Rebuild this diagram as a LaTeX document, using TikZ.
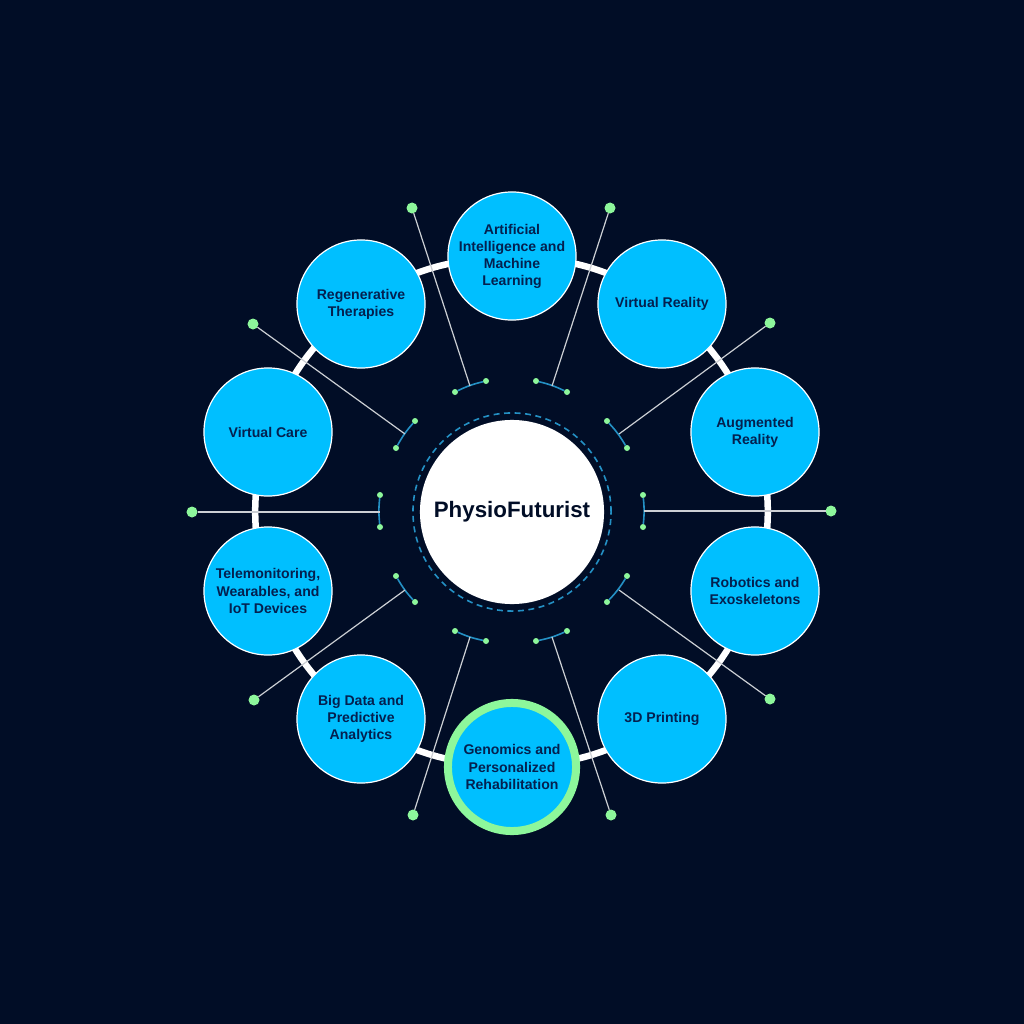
\documentclass[tikz,border=0pt]{standalone}
\usepackage{fontspec}
\setmainfont{Liberation Sans}
\usetikzlibrary{positioning,backgrounds}
\definecolor{bgColor}{HTML}{010D26}
\definecolor{topicColor}{HTML}{00BFFF}
\definecolor{textColor}{HTML}{04204F}
\definecolor{dotColor}{HTML}{8DF79B}
\definecolor{arcColor}{HTML}{2490C4}
\tikzset{
	topic/.style={circle, draw=white, line width=0.012cm, fill=topicColor, text=textColor,
		minimum size=1.28cm, inner sep=0, outer sep=0, align=center,
		font=\fontsize{4.0}{4.85}\selectfont\bfseries},
	chosen/.style={topic, draw=dotColor, line width=0.08cm},
	bigdot/.style={circle, fill=dotColor, minimum size=0.11cm, inner sep=0, outer sep=0},
	smalldot/.style={circle, fill=dotColor, minimum size=0.06cm, inner sep=0, outer sep=0},
	ring/.style={draw=white, line width=0.065cm, bend left=3.6, shorten >=-0.5pt, shorten <=-0.5pt},
	leader/.style={draw=white!80!bgColor, line width=0.012cm},
	tick/.style={draw=arcColor, line width=0.016cm, bend left=6}
}
\begin{document}
\begin{tikzpicture}[x=0.01cm, y=-0.01cm]
	\useasboundingbox (0,0) rectangle (1024,1024);
	\node[circle, fill=white, minimum size=1.84cm, inner sep=0, text=bgColor, font=\fontsize{6.35}{7}\selectfont\bfseries] (hub) at (512, 512) {PhysioFuturist};
	\draw[arcColor, line width=0.016cm, dash pattern=on 0.06cm off 0.045cm] (hub.center) circle (0.99cm);
	\node[topic] (ai) at (512, 256) {Artificial\\Intelligence and\\Machine\\Learning};
	\node[topic] (vr) at (662, 304) {Virtual Reality};
	\node[topic] (ar) at (755, 432) {Augmented\\Reality};
	\node[topic] (robot) at (755, 591) {Robotics and\\Exoskeletons};
	\node[topic] (print) at (662, 719) {3D Printing};
	\node[chosen] (gen) at (512, 767) {Genomics and\\Personalized\\Rehabilitation};
	\node[topic] (data) at (361, 719) {Big Data and\\Predictive\\Analytics};
	\node[topic] (tele) at (268, 591) {Telemonitoring,\\Wearables, and\\IoT Devices};
	\node[topic] (care) at (268, 432) {Virtual Care};
	\node[topic] (regen) at (361, 304) {Regenerative\\Therapies};
	\begin{scope}[on background layer]
		\fill[bgColor] (0,0) rectangle (1024,1024);
		\path (ai.-7) edge[ring] (vr.151);
		\path (vr.-43) edge[ring] (ar.115);
		\path (ar.-79) edge[ring] (robot.79);
		\path (robot.-115) edge[ring] (print.43);
		\path (print.-151) edge[ring] (gen.7);
		\path (gen.173) edge[ring] (data.-29);
		\path (data.137) edge[ring] (tele.-65);
		\path (tele.101) edge[ring] (care.-101);
		\path (care.65) edge[ring] (regen.-137);
		\path (regen.29) edge[ring] (ai.187);
	\end{scope}
	% outer dots
	\node[bigdot] (o1) at (412, 208) {};
	\node[bigdot] (o2) at (610, 208) {};
	\node[bigdot] (o3) at (770, 323) {};
	\node[bigdot] (o4) at (831, 511) {};
	\node[bigdot] (o5) at (770, 699) {};
	\node[bigdot] (o6) at (611, 815) {};
	\node[bigdot] (o7) at (413, 815) {};
	\node[bigdot] (o8) at (254, 700) {};
	\node[bigdot] (o9) at (192, 512) {};
	\node[bigdot] (o10) at (253, 324) {};
	% inner ticks
	\node[smalldot] (a1) at (455, 392) {};
	\node[smalldot] (b1) at (486, 381) {};
	\node[smalldot] (a2) at (536, 381) {};
	\node[smalldot] (b2) at (567, 392) {};
	\node[smalldot] (a3) at (607, 421) {};
	\node[smalldot] (b3) at (627, 448) {};
	\node[smalldot] (a4) at (643, 495) {};
	\node[smalldot] (b4) at (643, 527) {};
	\node[smalldot] (a5) at (627, 576) {};
	\node[smalldot] (b5) at (607, 602) {};
	\node[smalldot] (a6) at (567, 631) {};
	\node[smalldot] (b6) at (536, 641) {};
	\node[smalldot] (a7) at (486, 641) {};
	\node[smalldot] (b7) at (455, 631) {};
	\node[smalldot] (a8) at (415, 602) {};
	\node[smalldot] (b8) at (396, 576) {};
	\node[smalldot] (a9) at (380, 527) {};
	\node[smalldot] (b9) at (380, 495) {};
	\node[smalldot] (a10) at (396, 448) {};
	\node[smalldot] (b10) at (415, 421) {};
	\coordinate (m1) at (470, 386);
	\coordinate (m2) at (552, 386);
	\coordinate (m3) at (619, 434);
	\coordinate (m4) at (644, 511);
	\coordinate (m5) at (619, 590);
	\coordinate (m6) at (552, 637);
	\coordinate (m7) at (470, 637);
	\coordinate (m8) at (405, 590);
	\coordinate (m9) at (380, 512);
	\coordinate (m10) at (405, 434);
	\path (a1) edge[tick] (b1);
	\path (a2) edge[tick] (b2);
	\path (a3) edge[tick] (b3);
	\path (a4) edge[tick] (b4);
	\path (a5) edge[tick] (b5);
	\path (a6) edge[tick] (b6);
	\path (a7) edge[tick] (b7);
	\path (a8) edge[tick] (b8);
	\path (a9) edge[tick] (b9);
	\path (a10) edge[tick] (b10);
	\path (o1) edge[leader] (m1);
	\path (o2) edge[leader] (m2);
	\path (o3) edge[leader] (m3);
	\path (o4) edge[leader] (m4);
	\path (o5) edge[leader] (m5);
	\path (o6) edge[leader] (m6);
	\path (o7) edge[leader] (m7);
	\path (o8) edge[leader] (m8);
	\path (o9) edge[leader] (m9);
	\path (o10) edge[leader] (m10);
\end{tikzpicture}
\end{document}
